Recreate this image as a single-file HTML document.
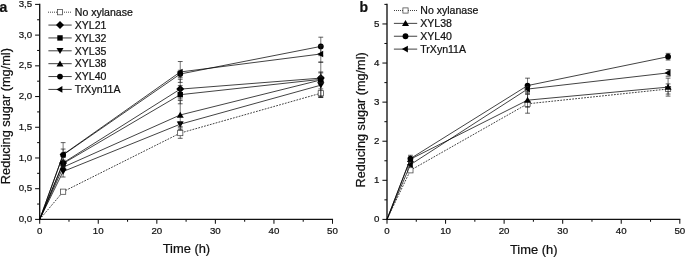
<!DOCTYPE html>
<html><head><meta charset="utf-8"><title>Reducing sugar</title>
<style>html,body{margin:0;padding:0;background:#fff}svg{display:block;will-change:transform}text{stroke:#111;stroke-width:0.22px}</style></head>
<body>
<svg width="685" height="258" viewBox="0 0 685 258" font-family='"Liberation Sans", sans-serif' fill="#111" >
<rect width="685" height="258" fill="#fff"/>
<line x1="39.7" y1="3.8000000000000003" x2="39.7" y2="220.0" stroke="#111" stroke-width="1.35"/>
<line x1="39.1" y1="219.4" x2="333.05" y2="219.4" stroke="#111" stroke-width="1.2"/>
<line x1="35.10" y1="219.40" x2="39.70" y2="219.40" stroke="#111" stroke-width="1.05"/>
<text x="32.10" y="222.00" text-anchor="end" font-size="9.7">0,0</text>
<line x1="37.10" y1="204.04" x2="39.70" y2="204.04" stroke="#111" stroke-width="1.05"/>
<line x1="35.10" y1="188.69" x2="39.70" y2="188.69" stroke="#111" stroke-width="1.05"/>
<text x="32.10" y="191.29" text-anchor="end" font-size="9.7">0,5</text>
<line x1="37.10" y1="173.33" x2="39.70" y2="173.33" stroke="#111" stroke-width="1.05"/>
<line x1="35.10" y1="157.97" x2="39.70" y2="157.97" stroke="#111" stroke-width="1.05"/>
<text x="32.10" y="160.57" text-anchor="end" font-size="9.7">1,0</text>
<line x1="37.10" y1="142.61" x2="39.70" y2="142.61" stroke="#111" stroke-width="1.05"/>
<line x1="35.10" y1="127.26" x2="39.70" y2="127.26" stroke="#111" stroke-width="1.05"/>
<text x="32.10" y="129.86" text-anchor="end" font-size="9.7">1,5</text>
<line x1="37.10" y1="111.90" x2="39.70" y2="111.90" stroke="#111" stroke-width="1.05"/>
<line x1="35.10" y1="96.54" x2="39.70" y2="96.54" stroke="#111" stroke-width="1.05"/>
<text x="32.10" y="99.14" text-anchor="end" font-size="9.7">2,0</text>
<line x1="37.10" y1="81.19" x2="39.70" y2="81.19" stroke="#111" stroke-width="1.05"/>
<line x1="35.10" y1="65.83" x2="39.70" y2="65.83" stroke="#111" stroke-width="1.05"/>
<text x="32.10" y="68.43" text-anchor="end" font-size="9.7">2,5</text>
<line x1="37.10" y1="50.47" x2="39.70" y2="50.47" stroke="#111" stroke-width="1.05"/>
<line x1="35.10" y1="35.11" x2="39.70" y2="35.11" stroke="#111" stroke-width="1.05"/>
<text x="32.10" y="37.71" text-anchor="end" font-size="9.7">3,0</text>
<line x1="37.10" y1="19.76" x2="39.70" y2="19.76" stroke="#111" stroke-width="1.05"/>
<line x1="35.10" y1="4.40" x2="39.70" y2="4.40" stroke="#111" stroke-width="1.05"/>
<text x="32.10" y="7.00" text-anchor="end" font-size="9.7">3,5</text>
<line x1="39.70" y1="219.40" x2="39.70" y2="223.80" stroke="#111" stroke-width="1.05"/>
<text x="39.70" y="234.10" text-anchor="middle" font-size="9.7">0</text>
<line x1="68.98" y1="219.40" x2="68.98" y2="221.80" stroke="#111" stroke-width="1.05"/>
<line x1="98.26" y1="219.40" x2="98.26" y2="223.80" stroke="#111" stroke-width="1.05"/>
<text x="98.26" y="234.10" text-anchor="middle" font-size="9.7">10</text>
<line x1="127.54" y1="219.40" x2="127.54" y2="221.80" stroke="#111" stroke-width="1.05"/>
<line x1="156.82" y1="219.40" x2="156.82" y2="223.80" stroke="#111" stroke-width="1.05"/>
<text x="156.82" y="234.10" text-anchor="middle" font-size="9.7">20</text>
<line x1="186.10" y1="219.40" x2="186.10" y2="221.80" stroke="#111" stroke-width="1.05"/>
<line x1="215.38" y1="219.40" x2="215.38" y2="223.80" stroke="#111" stroke-width="1.05"/>
<text x="215.38" y="234.10" text-anchor="middle" font-size="9.7">30</text>
<line x1="244.66" y1="219.40" x2="244.66" y2="221.80" stroke="#111" stroke-width="1.05"/>
<line x1="273.94" y1="219.40" x2="273.94" y2="223.80" stroke="#111" stroke-width="1.05"/>
<text x="273.94" y="234.10" text-anchor="middle" font-size="9.7">40</text>
<line x1="303.22" y1="219.40" x2="303.22" y2="221.80" stroke="#111" stroke-width="1.05"/>
<line x1="332.50" y1="219.40" x2="332.50" y2="223.80" stroke="#111" stroke-width="1.05"/>
<text x="332.50" y="234.10" text-anchor="middle" font-size="9.7">50</text>
<text x="186.40" y="252.8" text-anchor="middle" font-size="12.9">Time (h)</text>
<text transform="translate(9.8,116.10) rotate(-90)" text-anchor="middle" font-size="12.75">Reducing sugar (mg/ml)</text>
<text x="-0.6" y="11.8" font-size="14" font-weight="bold">a</text>
<polyline points="39.70,219.40 63.12,191.70 180.24,133.09 320.79,93.23" fill="none" stroke="#000" stroke-width="0.74" stroke-dasharray="1.8 1.2"/>
<path d="M180.24 127.87V138.31" fill="none" stroke="#222" stroke-width="0.62"/>
<path d="M177.84 127.87h4.8M177.84 138.31h4.8" fill="none" stroke="#222" stroke-width="0.72"/>
<path d="M320.79 88.93V97.53" fill="none" stroke="#222" stroke-width="0.62"/>
<path d="M318.39 88.93h4.8M318.39 97.53h4.8" fill="none" stroke="#222" stroke-width="0.72"/>
<rect x="60.52" y="189.10" width="5.2" height="5.2" fill="#fff" stroke="#444" stroke-width="0.75"/>
<rect x="177.64" y="130.49" width="5.2" height="5.2" fill="#fff" stroke="#444" stroke-width="0.75"/>
<rect x="318.19" y="90.63" width="5.2" height="5.2" fill="#fff" stroke="#444" stroke-width="0.75"/>
<polyline points="39.70,219.40 63.12,162.89 180.24,89.11 320.79,78.11" fill="none" stroke="#000" stroke-width="0.74"/>
<path d="M180.24 79.28V98.94" fill="none" stroke="#222" stroke-width="0.62"/>
<path d="M177.84 79.28h4.8M177.84 98.94h4.8" fill="none" stroke="#222" stroke-width="0.72"/>
<path d="M320.79 71.97V84.26" fill="none" stroke="#222" stroke-width="0.62"/>
<path d="M318.39 71.97h4.8M318.39 84.26h4.8" fill="none" stroke="#222" stroke-width="0.72"/>
<polygon points="59.12,162.89 63.12,158.89 67.12,162.89 63.12,166.89" fill="#000"/>
<polygon points="176.24,89.11 180.24,85.11 184.24,89.11 180.24,93.11" fill="#000"/>
<polygon points="316.79,78.11 320.79,74.11 324.79,78.11 320.79,82.11" fill="#000"/>
<polyline points="39.70,219.40 63.12,163.50 180.24,94.70 320.79,79.34" fill="none" stroke="#000" stroke-width="0.74"/>
<path d="M180.24 85.61V103.79" fill="none" stroke="#222" stroke-width="0.62"/>
<path d="M177.84 85.61h4.8M177.84 103.79h4.8" fill="none" stroke="#222" stroke-width="0.72"/>
<path d="M320.79 62.14V96.54" fill="none" stroke="#222" stroke-width="0.62"/>
<path d="M318.39 62.14h4.8M318.39 96.54h4.8" fill="none" stroke="#222" stroke-width="0.72"/>
<rect x="60.42" y="160.80" width="5.4" height="5.4" fill="#000"/>
<rect x="177.54" y="92.00" width="5.4" height="5.4" fill="#000"/>
<rect x="318.09" y="76.64" width="5.4" height="5.4" fill="#000"/>
<polyline points="39.70,219.40 63.12,171.49 180.24,124.19 320.79,85.18" fill="none" stroke="#000" stroke-width="0.74"/>
<path d="M63.12 165.96V177.01" fill="none" stroke="#222" stroke-width="0.62"/>
<path d="M60.72 165.96h4.8M60.72 177.01h4.8" fill="none" stroke="#222" stroke-width="0.72"/>
<path d="M180.24 121.73V126.64" fill="none" stroke="#222" stroke-width="0.62"/>
<path d="M177.84 121.73h4.8M177.84 126.64h4.8" fill="none" stroke="#222" stroke-width="0.72"/>
<path d="M320.79 72.89V97.46" fill="none" stroke="#222" stroke-width="0.62"/>
<path d="M318.39 72.89h4.8M318.39 97.46h4.8" fill="none" stroke="#222" stroke-width="0.72"/>
<polygon points="59.62,168.79 66.62,168.79 63.12,174.79" fill="#000"/>
<polygon points="176.74,121.49 183.74,121.49 180.24,127.49" fill="#000"/>
<polygon points="317.29,82.48 324.29,82.48 320.79,88.48" fill="#000"/>
<polyline points="39.70,219.40 63.12,167.19 180.24,114.97 320.79,79.96" fill="none" stroke="#000" stroke-width="0.74"/>
<path d="M180.24 100.54V129.41" fill="none" stroke="#222" stroke-width="0.62"/>
<path d="M177.84 100.54h4.8M177.84 129.41h4.8" fill="none" stroke="#222" stroke-width="0.72"/>
<path d="M320.79 76.89V83.03" fill="none" stroke="#222" stroke-width="0.62"/>
<path d="M318.39 76.89h4.8M318.39 83.03h4.8" fill="none" stroke="#222" stroke-width="0.72"/>
<polygon points="59.62,169.89 66.62,169.89 63.12,163.89" fill="#000"/>
<polygon points="176.74,117.67 183.74,117.67 180.24,111.67" fill="#000"/>
<polygon points="317.29,82.66 324.29,82.66 320.79,76.66" fill="#000"/>
<polyline points="39.70,219.40 63.12,154.90 180.24,74.00 320.79,46.42" fill="none" stroke="#000" stroke-width="0.74"/>
<path d="M63.12 142.61V167.19" fill="none" stroke="#222" stroke-width="0.62"/>
<path d="M60.72 142.61h4.8M60.72 167.19h4.8" fill="none" stroke="#222" stroke-width="0.72"/>
<path d="M180.24 70.31V77.68" fill="none" stroke="#222" stroke-width="0.62"/>
<path d="M177.84 70.31h4.8M177.84 77.68h4.8" fill="none" stroke="#222" stroke-width="0.72"/>
<path d="M320.79 37.20V55.63" fill="none" stroke="#222" stroke-width="0.62"/>
<path d="M318.39 37.20h4.8M318.39 55.63h4.8" fill="none" stroke="#222" stroke-width="0.72"/>
<circle cx="63.12" cy="154.90" r="2.9" fill="#000"/>
<circle cx="180.24" cy="74.00" r="2.9" fill="#000"/>
<circle cx="320.79" cy="46.42" r="2.9" fill="#000"/>
<polyline points="39.70,219.40 63.12,154.59 180.24,71.97 320.79,53.97" fill="none" stroke="#000" stroke-width="0.74"/>
<path d="M63.12 149.06V160.12" fill="none" stroke="#222" stroke-width="0.62"/>
<path d="M60.72 149.06h4.8M60.72 160.12h4.8" fill="none" stroke="#222" stroke-width="0.72"/>
<path d="M180.24 61.53V82.41" fill="none" stroke="#222" stroke-width="0.62"/>
<path d="M177.84 61.53h4.8M177.84 82.41h4.8" fill="none" stroke="#222" stroke-width="0.72"/>
<path d="M320.79 45.74V62.20" fill="none" stroke="#222" stroke-width="0.62"/>
<path d="M318.39 45.74h4.8M318.39 62.20h4.8" fill="none" stroke="#222" stroke-width="0.72"/>
<polygon points="65.52,151.29 65.52,157.89 59.52,154.59" fill="#000"/>
<polygon points="182.64,68.67 182.64,75.27 176.64,71.97" fill="#000"/>
<polygon points="323.19,50.67 323.19,57.27 317.19,53.97" fill="#000"/>
<line x1="48" y1="12.20" x2="71" y2="12.20" stroke="#000" stroke-width="0.74" stroke-dasharray="1 1"/>
<rect x="57.40" y="9.60" width="5.2" height="5.2" fill="#fff" stroke="#444" stroke-width="0.75"/>
<text x="74.80" y="15.90" font-size="10.55">No xylanase</text>
<line x1="48.40" y1="25.07" x2="71.70" y2="25.07" stroke="#000" stroke-width="0.75"/>
<polygon points="56.00,25.07 60.00,21.07 64.00,25.07 60.00,29.07" fill="#000"/>
<text x="74.80" y="28.77" font-size="10.55">XYL21</text>
<line x1="48.40" y1="37.94" x2="71.70" y2="37.94" stroke="#000" stroke-width="0.75"/>
<rect x="57.30" y="35.24" width="5.4" height="5.4" fill="#000"/>
<text x="74.80" y="41.64" font-size="10.55">XYL32</text>
<line x1="48.40" y1="50.81" x2="71.70" y2="50.81" stroke="#000" stroke-width="0.75"/>
<polygon points="56.50,48.11 63.50,48.11 60.00,54.11" fill="#000"/>
<text x="74.80" y="54.51" font-size="10.55">XYL35</text>
<line x1="48.40" y1="63.68" x2="71.70" y2="63.68" stroke="#000" stroke-width="0.75"/>
<polygon points="56.50,66.38 63.50,66.38 60.00,60.38" fill="#000"/>
<text x="74.80" y="67.38" font-size="10.55">XYL38</text>
<line x1="48.40" y1="76.55" x2="71.70" y2="76.55" stroke="#000" stroke-width="0.75"/>
<circle cx="60.00" cy="76.55" r="2.9" fill="#000"/>
<text x="74.80" y="80.25" font-size="10.55">XYL40</text>
<line x1="48.40" y1="89.42" x2="71.70" y2="89.42" stroke="#000" stroke-width="0.75"/>
<polygon points="62.40,86.12 62.40,92.72 56.40,89.42" fill="#000"/>
<text x="74.80" y="93.12" font-size="10.55">TrXyn11A</text>
<line x1="387.0" y1="3.8000000000000003" x2="387.0" y2="220.0" stroke="#111" stroke-width="1.35"/>
<line x1="386.4" y1="219.4" x2="680.3499999999999" y2="219.4" stroke="#111" stroke-width="1.2"/>
<line x1="382.40" y1="219.40" x2="387.00" y2="219.40" stroke="#111" stroke-width="1.05"/>
<text x="379.40" y="222.00" text-anchor="end" font-size="9.7">0</text>
<line x1="384.40" y1="199.85" x2="387.00" y2="199.85" stroke="#111" stroke-width="1.05"/>
<line x1="382.40" y1="180.31" x2="387.00" y2="180.31" stroke="#111" stroke-width="1.05"/>
<text x="379.40" y="182.91" text-anchor="end" font-size="9.7">1</text>
<line x1="384.40" y1="160.76" x2="387.00" y2="160.76" stroke="#111" stroke-width="1.05"/>
<line x1="382.40" y1="141.22" x2="387.00" y2="141.22" stroke="#111" stroke-width="1.05"/>
<text x="379.40" y="143.82" text-anchor="end" font-size="9.7">2</text>
<line x1="384.40" y1="121.67" x2="387.00" y2="121.67" stroke="#111" stroke-width="1.05"/>
<line x1="382.40" y1="102.13" x2="387.00" y2="102.13" stroke="#111" stroke-width="1.05"/>
<text x="379.40" y="104.73" text-anchor="end" font-size="9.7">3</text>
<line x1="384.40" y1="82.58" x2="387.00" y2="82.58" stroke="#111" stroke-width="1.05"/>
<line x1="382.40" y1="63.04" x2="387.00" y2="63.04" stroke="#111" stroke-width="1.05"/>
<text x="379.40" y="65.64" text-anchor="end" font-size="9.7">4</text>
<line x1="384.40" y1="43.49" x2="387.00" y2="43.49" stroke="#111" stroke-width="1.05"/>
<line x1="382.40" y1="23.95" x2="387.00" y2="23.95" stroke="#111" stroke-width="1.05"/>
<text x="379.40" y="26.55" text-anchor="end" font-size="9.7">5</text>
<line x1="384.40" y1="4.40" x2="387.00" y2="4.40" stroke="#111" stroke-width="1.05"/>
<line x1="387.00" y1="219.40" x2="387.00" y2="223.80" stroke="#111" stroke-width="1.05"/>
<text x="387.00" y="234.10" text-anchor="middle" font-size="9.7">0</text>
<line x1="416.28" y1="219.40" x2="416.28" y2="221.80" stroke="#111" stroke-width="1.05"/>
<line x1="445.56" y1="219.40" x2="445.56" y2="223.80" stroke="#111" stroke-width="1.05"/>
<text x="445.56" y="234.10" text-anchor="middle" font-size="9.7">10</text>
<line x1="474.84" y1="219.40" x2="474.84" y2="221.80" stroke="#111" stroke-width="1.05"/>
<line x1="504.12" y1="219.40" x2="504.12" y2="223.80" stroke="#111" stroke-width="1.05"/>
<text x="504.12" y="234.10" text-anchor="middle" font-size="9.7">20</text>
<line x1="533.40" y1="219.40" x2="533.40" y2="221.80" stroke="#111" stroke-width="1.05"/>
<line x1="562.68" y1="219.40" x2="562.68" y2="223.80" stroke="#111" stroke-width="1.05"/>
<text x="562.68" y="234.10" text-anchor="middle" font-size="9.7">30</text>
<line x1="591.96" y1="219.40" x2="591.96" y2="221.80" stroke="#111" stroke-width="1.05"/>
<line x1="621.24" y1="219.40" x2="621.24" y2="223.80" stroke="#111" stroke-width="1.05"/>
<text x="621.24" y="234.10" text-anchor="middle" font-size="9.7">40</text>
<line x1="650.52" y1="219.40" x2="650.52" y2="221.80" stroke="#111" stroke-width="1.05"/>
<line x1="679.80" y1="219.40" x2="679.80" y2="223.80" stroke="#111" stroke-width="1.05"/>
<text x="679.80" y="234.10" text-anchor="middle" font-size="9.7">50</text>
<text x="533.70" y="254.0" text-anchor="middle" font-size="12.9">Time (h)</text>
<text transform="translate(364.5,119.90) rotate(-90)" text-anchor="middle" font-size="12.68">Reducing sugar (mg/ml)</text>
<text x="359.6" y="11.8" font-size="14" font-weight="bold">b</text>
<polyline points="387.00,219.40 410.42,170.30 527.54,103.81 668.09,88.99" fill="none" stroke="#000" stroke-width="0.74" stroke-dasharray="1.8 1.2"/>
<path d="M527.54 94.43V113.19" fill="none" stroke="#222" stroke-width="0.62"/>
<path d="M525.14 94.43h4.8M525.14 113.19h4.8" fill="none" stroke="#222" stroke-width="0.72"/>
<path d="M668.09 83.91V94.07" fill="none" stroke="#222" stroke-width="0.62"/>
<path d="M665.69 83.91h4.8M665.69 94.07h4.8" fill="none" stroke="#222" stroke-width="0.72"/>
<rect x="407.82" y="167.70" width="5.2" height="5.2" fill="#fff" stroke="#444" stroke-width="0.75"/>
<rect x="524.94" y="101.21" width="5.2" height="5.2" fill="#fff" stroke="#444" stroke-width="0.75"/>
<rect x="665.49" y="86.39" width="5.2" height="5.2" fill="#fff" stroke="#444" stroke-width="0.75"/>
<polyline points="387.00,219.40 410.42,159.20 527.54,100.17 668.09,87.12" fill="none" stroke="#000" stroke-width="0.74"/>
<path d="M410.42 157.64V160.76" fill="none" stroke="#222" stroke-width="0.62"/>
<path d="M408.02 157.64h4.8M408.02 160.76h4.8" fill="none" stroke="#222" stroke-width="0.72"/>
<path d="M527.54 93.14V107.21" fill="none" stroke="#222" stroke-width="0.62"/>
<path d="M525.14 93.14h4.8M525.14 107.21h4.8" fill="none" stroke="#222" stroke-width="0.72"/>
<path d="M668.09 78.13V96.11" fill="none" stroke="#222" stroke-width="0.62"/>
<path d="M665.69 78.13h4.8M665.69 96.11h4.8" fill="none" stroke="#222" stroke-width="0.72"/>
<polygon points="406.92,161.90 413.92,161.90 410.42,155.90" fill="#000"/>
<polygon points="524.04,102.87 531.04,102.87 527.54,96.87" fill="#000"/>
<polygon points="664.59,89.82 671.59,89.82 668.09,83.82" fill="#000"/>
<polyline points="387.00,219.40 410.42,158.61 527.54,85.59 668.09,56.70" fill="none" stroke="#000" stroke-width="0.74"/>
<path d="M410.42 155.29V161.94" fill="none" stroke="#222" stroke-width="0.62"/>
<path d="M408.02 155.29h4.8M408.02 161.94h4.8" fill="none" stroke="#222" stroke-width="0.72"/>
<path d="M527.54 78.16V93.02" fill="none" stroke="#222" stroke-width="0.62"/>
<path d="M525.14 78.16h4.8M525.14 93.02h4.8" fill="none" stroke="#222" stroke-width="0.72"/>
<path d="M668.09 53.38V60.03" fill="none" stroke="#222" stroke-width="0.62"/>
<path d="M665.69 53.38h4.8M665.69 60.03h4.8" fill="none" stroke="#222" stroke-width="0.72"/>
<circle cx="410.42" cy="158.61" r="2.9" fill="#000"/>
<circle cx="527.54" cy="85.59" r="2.9" fill="#000"/>
<circle cx="668.09" cy="56.70" r="2.9" fill="#000"/>
<polyline points="387.00,219.40 410.42,164.67 527.54,89.07 668.09,72.89" fill="none" stroke="#000" stroke-width="0.74"/>
<path d="M410.42 162.72V166.63" fill="none" stroke="#222" stroke-width="0.62"/>
<path d="M408.02 162.72h4.8M408.02 166.63h4.8" fill="none" stroke="#222" stroke-width="0.72"/>
<path d="M527.54 86.73V91.42" fill="none" stroke="#222" stroke-width="0.62"/>
<path d="M525.14 86.73h4.8M525.14 91.42h4.8" fill="none" stroke="#222" stroke-width="0.72"/>
<path d="M668.09 69.56V76.21" fill="none" stroke="#222" stroke-width="0.62"/>
<path d="M665.69 69.56h4.8M665.69 76.21h4.8" fill="none" stroke="#222" stroke-width="0.72"/>
<polygon points="412.82,161.37 412.82,167.97 406.82,164.67" fill="#000"/>
<polygon points="529.94,85.77 529.94,92.37 523.94,89.07" fill="#000"/>
<polygon points="670.49,69.59 670.49,76.19 664.49,72.89" fill="#000"/>
<line x1="394" y1="10.50" x2="417" y2="10.50" stroke="#000" stroke-width="0.74" stroke-dasharray="1 1"/>
<rect x="402.90" y="7.90" width="5.2" height="5.2" fill="#fff" stroke="#444" stroke-width="0.75"/>
<text x="420.30" y="14.20" font-size="10.55">No xylanase</text>
<line x1="393.90" y1="23.37" x2="417.20" y2="23.37" stroke="#000" stroke-width="0.75"/>
<polygon points="402.00,26.07 409.00,26.07 405.50,20.07" fill="#000"/>
<text x="420.30" y="27.07" font-size="10.55">XYL38</text>
<line x1="393.90" y1="36.24" x2="417.20" y2="36.24" stroke="#000" stroke-width="0.75"/>
<circle cx="405.50" cy="36.24" r="2.9" fill="#000"/>
<text x="420.30" y="39.94" font-size="10.55">XYL40</text>
<line x1="393.90" y1="49.11" x2="417.20" y2="49.11" stroke="#000" stroke-width="0.75"/>
<polygon points="407.90,45.81 407.90,52.41 401.90,49.11" fill="#000"/>
<text x="420.30" y="52.81" font-size="10.55">TrXyn11A</text>
</svg>
</body></html>
